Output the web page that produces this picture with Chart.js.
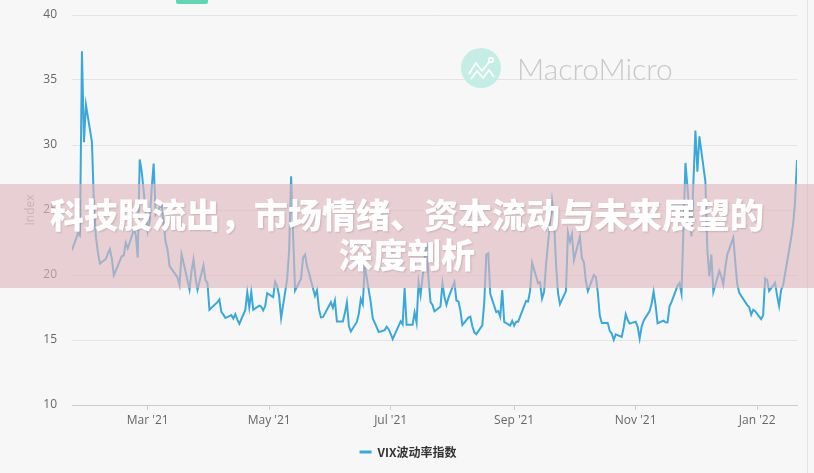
<!DOCTYPE html>
<html lang="zh">
<head>
  <meta charset="UTF-8">
  <title>VIX波动率指数</title>
  <script src="https://cdn.jsdelivr.net/npm/chart.js"></script>
  <style>
    body { margin: 0; background: #f7f7f7; }
    #wrap { position: relative; width: 814px; height: 473px; overflow: hidden; }
    #band {
      position: absolute; left: 0; top: 184px; width: 814px; height: 104px;
      background: rgba(222, 183, 191, 0.62);
      color: #fff; text-align: center;
      font: 900 34px "Noto Sans CJK SC", sans-serif; line-height: 40px;
      padding-top: 10px; box-sizing: border-box;
      text-shadow: 1px 1px 2px rgba(0, 0, 0, 0.15);
    }
    #tab { position: absolute; left: 176px; top: -4px; width: 32px; height: 8px; background: #5fd6b6; border-radius: 2px; }
    #edge { position: absolute; left: 807px; top: 0; width: 1px; height: 473px; background: #e2e2e2; }
  </style>
</head>
<body>
<div id="wrap">
  <canvas id="vixChart" width="814" height="473"></canvas>
  <div id="tab"></div>
  <div id="edge"></div>
  <div id="band">科技股流出，市场情绪、资本流动与未来展望的<br>深度剖析</div>
</div>

<script>
  // VIX 收盘价（交易日）
  const dates = [
    '2021-01-22','2021-01-25','2021-01-26','2021-01-27','2021-01-28','2021-01-29',
    '2021-02-01','2021-02-02','2021-02-03','2021-02-04','2021-02-05','2021-02-08','2021-02-09','2021-02-10','2021-02-11','2021-02-12',
    '2021-02-16','2021-02-17','2021-02-18','2021-02-19','2021-02-22','2021-02-23','2021-02-24','2021-02-25','2021-02-26',
    '2021-03-01','2021-03-02','2021-03-03','2021-03-04','2021-03-05','2021-03-08','2021-03-09','2021-03-10','2021-03-11','2021-03-12',
    '2021-03-15','2021-03-16','2021-03-17','2021-03-18','2021-03-19','2021-03-22','2021-03-23','2021-03-24','2021-03-25','2021-03-26',
    '2021-03-29','2021-03-30','2021-03-31',
    '2021-04-01','2021-04-05','2021-04-06','2021-04-07','2021-04-08','2021-04-09','2021-04-12','2021-04-13','2021-04-14','2021-04-15',
    '2021-04-16','2021-04-19','2021-04-20','2021-04-21','2021-04-22','2021-04-23','2021-04-26','2021-04-27','2021-04-28','2021-04-29','2021-04-30',
    '2021-05-03','2021-05-04','2021-05-05','2021-05-06','2021-05-07','2021-05-10','2021-05-11','2021-05-12','2021-05-13','2021-05-14',
    '2021-05-17','2021-05-18','2021-05-19','2021-05-20','2021-05-21','2021-05-24','2021-05-25','2021-05-26','2021-05-27','2021-05-28',
    '2021-06-01','2021-06-02','2021-06-03','2021-06-04','2021-06-07','2021-06-08','2021-06-09','2021-06-10','2021-06-11',
    '2021-06-14','2021-06-15','2021-06-16','2021-06-17','2021-06-18','2021-06-21','2021-06-22','2021-06-23','2021-06-24','2021-06-25',
    '2021-06-28','2021-06-29','2021-06-30',
    '2021-07-01','2021-07-02','2021-07-06','2021-07-07','2021-07-08','2021-07-09','2021-07-12','2021-07-13','2021-07-14','2021-07-15','2021-07-16',
    '2021-07-19','2021-07-20','2021-07-21','2021-07-22','2021-07-23','2021-07-26','2021-07-27','2021-07-28','2021-07-29','2021-07-30',
    '2021-08-02','2021-08-03','2021-08-04','2021-08-05','2021-08-06','2021-08-09','2021-08-10','2021-08-11','2021-08-12','2021-08-13',
    '2021-08-16','2021-08-17','2021-08-18','2021-08-19','2021-08-20','2021-08-23','2021-08-24','2021-08-25','2021-08-26','2021-08-27',
    '2021-08-30','2021-08-31',
    '2021-09-01','2021-09-02','2021-09-03','2021-09-07','2021-09-08','2021-09-09','2021-09-10','2021-09-13','2021-09-14','2021-09-15',
    '2021-09-16','2021-09-17','2021-09-20','2021-09-21','2021-09-22','2021-09-23','2021-09-24','2021-09-27','2021-09-28','2021-09-29','2021-09-30',
    '2021-10-01','2021-10-04','2021-10-05','2021-10-06','2021-10-07','2021-10-08','2021-10-11','2021-10-12','2021-10-13','2021-10-14','2021-10-15',
    '2021-10-18','2021-10-19','2021-10-20','2021-10-21','2021-10-22','2021-10-25','2021-10-26','2021-10-27','2021-10-28','2021-10-29',
    '2021-11-01','2021-11-02','2021-11-03','2021-11-04','2021-11-05','2021-11-08','2021-11-09','2021-11-10','2021-11-11','2021-11-12',
    '2021-11-15','2021-11-16','2021-11-17','2021-11-18','2021-11-19','2021-11-22','2021-11-23','2021-11-24','2021-11-26','2021-11-29','2021-11-30',
    '2021-12-01','2021-12-02','2021-12-03','2021-12-06','2021-12-07','2021-12-08','2021-12-09','2021-12-10','2021-12-13','2021-12-14',
    '2021-12-15','2021-12-16','2021-12-17','2021-12-20','2021-12-21','2021-12-22','2021-12-23','2021-12-27','2021-12-28','2021-12-29',
    '2021-12-30','2021-12-31',
    '2022-01-03','2022-01-04','2022-01-05','2022-01-06','2022-01-07','2022-01-10','2022-01-11','2022-01-12','2022-01-13','2022-01-14',
    '2022-01-18','2022-01-19','2022-01-20','2022-01-21'
  ];
  const vix = [
    21.91,23.19,23.02,37.21,30.21,33.09,
    30.24,25.56,22.91,21.77,20.87,21.24,21.63,21.99,21.25,19.97,
    21.46,21.50,22.49,22.05,23.45,23.11,21.34,28.89,27.95,
    23.35,24.10,26.67,28.57,24.66,25.47,24.03,22.56,21.91,20.69,
    20.03,19.79,19.23,21.58,20.95,18.88,20.30,21.20,19.81,18.86,
    20.74,19.61,19.40,
    17.33,17.91,18.12,17.16,16.95,16.69,16.91,16.65,16.99,16.57,
    16.25,17.29,18.68,17.50,18.71,17.33,17.64,17.56,17.28,17.61,18.61,
    18.31,19.48,19.15,18.39,16.69,19.66,21.84,27.59,23.13,18.81,
    19.72,21.34,21.57,20.67,20.15,18.40,18.84,17.36,16.74,16.76,
    17.90,17.48,18.04,16.42,16.42,17.07,17.89,16.10,15.65,
    16.39,17.02,18.15,17.75,20.70,17.89,16.66,16.32,15.97,15.62,
    15.76,16.02,15.83,
    15.48,15.07,16.44,16.20,19.00,16.18,16.17,17.12,16.33,19.45,18.45,
    22.50,19.73,17.91,17.69,17.20,17.58,19.36,18.31,17.70,18.24,
    19.46,18.04,17.97,17.28,16.15,16.72,16.79,16.06,15.59,15.45,
    16.12,17.91,21.57,21.67,18.56,17.15,17.22,16.79,18.84,16.39,
    16.11,16.48,
    16.11,16.41,16.41,18.00,17.96,18.80,20.95,19.37,19.46,18.18,
    18.69,20.81,25.71,24.36,20.87,18.63,17.75,18.76,23.25,22.56,23.14,
    21.15,22.96,21.30,21.00,19.54,18.77,20.00,19.85,18.64,16.86,16.30,
    16.30,15.70,15.49,15.01,15.43,15.24,15.98,16.98,16.53,16.26,
    16.41,16.03,15.10,16.03,16.48,17.22,17.78,18.73,17.66,16.29,
    16.49,16.37,16.35,17.59,17.91,19.17,19.38,18.58,28.62,22.96,27.19,
    31.12,27.95,30.67,27.18,21.89,19.90,21.58,18.69,20.31,19.89,
    19.29,20.57,21.57,22.87,21.01,19.29,18.63,17.68,17.54,16.95,
    17.33,17.22,
    16.60,16.91,19.73,19.61,18.76,19.40,18.41,17.62,18.83,19.19,
    22.79,23.85,25.59,28.85
  ];
  const tickDates = ['2021-03-01','2021-05-01','2021-07-01','2021-09-01','2021-11-01','2022-01-01'];
  const tickLabels = ["Mar '21","May '21","Jul '21","Sep '21","Nov '21","Jan '22"];

  const DAY = 86400000;
  const dayOf = s => Date.parse(s + 'T00:00:00Z') / DAY;
  const points = dates.map((d, i) => ({ x: dayOf(d), y: vix[i] }));
  const tickValues = tickDates.map(dayOf);

  const watermark = {
    id: 'watermark',
    beforeDatasetsDraw(chart) {
      const ctx = chart.ctx;
      ctx.save();
      ctx.fillStyle = '#c4eee5';
      ctx.beginPath();
      ctx.arc(481, 68, 20, 0, Math.PI * 2);
      ctx.fill();
      ctx.strokeStyle = '#ffffff';
      ctx.lineWidth = 1.8;
      ctx.lineJoin = 'round';
      ctx.beginPath();
      ctx.moveTo(469, 74); ctx.lineTo(476, 63); ctx.lineTo(482, 71); ctx.lineTo(489, 62);
      ctx.moveTo(471, 79); ctx.lineTo(477, 71); ctx.lineTo(483, 78); ctx.lineTo(489, 70); ctx.lineTo(494, 77);
      ctx.stroke();
      ctx.beginPath();
      ctx.arc(491, 60, 2.2, 0, Math.PI * 2);
      ctx.stroke();
      ctx.fillStyle = '#c8c8c8';
      ctx.font = '300 30px Lato, "Open Sans", sans-serif';
      ctx.textBaseline = 'alphabetic';
      ctx.fillText('MacroMicro', 517, 80);
      ctx.restore();
    }
  };

  const ctx = document.getElementById('vixChart').getContext('2d');
  new Chart(ctx, {
    type: 'line',
    data: {
      datasets: [{
        label: 'VIX波动率指数',
        data: points,
        borderColor: '#3aa8d8',
        backgroundColor: '#3aa8d8',
        borderWidth: 2,
        pointRadius: 0,
        tension: 0,
        fill: false
      }]
    },
    options: {
      responsive: false,
      animation: false,
      layout: { padding: { top: 15, left: 19, right: 17, bottom: 5 } },
      plugins: {
        tooltip: { enabled: false },
        legend: {
          position: 'bottom',
          labels: {
            color: '#333',
            font: { family: '"Noto Sans CJK SC", "Open Sans", sans-serif', size: 12, weight: 'bold' },
            boxWidth: 12,
            boxHeight: 3,
            padding: 10,
            generateLabels(chart) {
              return Chart.defaults.plugins.legend.labels.generateLabels(chart).map(l => ({ ...l, lineWidth: 0 }));
            }
          }
        }
      },
      scales: {
        x: {
          type: 'linear',
          min: points[0].x,
          max: points[points.length - 1].x,
          afterBuildTicks(scale) { scale.ticks = tickValues.map(v => ({ value: v })); },
          afterFit(scale) { scale.height = 31; },
          ticks: {
            autoSkip: false,
            maxRotation: 0,
            padding: 3,
            color: '#666',
            font: { family: '"Open Sans", sans-serif', size: 12 },
            callback: (v, i) => tickLabels[i]
          },
          grid: { drawOnChartArea: false, drawTicks: true, tickLength: 5, color: '#cccccc' },
          border: { color: '#cccccc' }
        },
        y: {
          min: 10,
          max: 40,
          afterFit(scale) { scale.width = 53; },
          ticks: {
            stepSize: 5,
            padding: 3,
            color: '#666',
            font: { family: '"Open Sans", sans-serif', size: 12 }
          },
          grid: { color: '#e4e4e4', drawTicks: true, tickLength: 12, tickColor: 'rgba(0,0,0,0)' },
          border: { display: false },
          title: {
            display: true,
            text: 'Index',
            color: '#aaa',
            padding: { top: 4, bottom: 0 },
            font: { family: '"Open Sans", sans-serif', size: 12 }
          }
        }
      }
    },
    plugins: [watermark]
  });
</script>
</body>
</html>
